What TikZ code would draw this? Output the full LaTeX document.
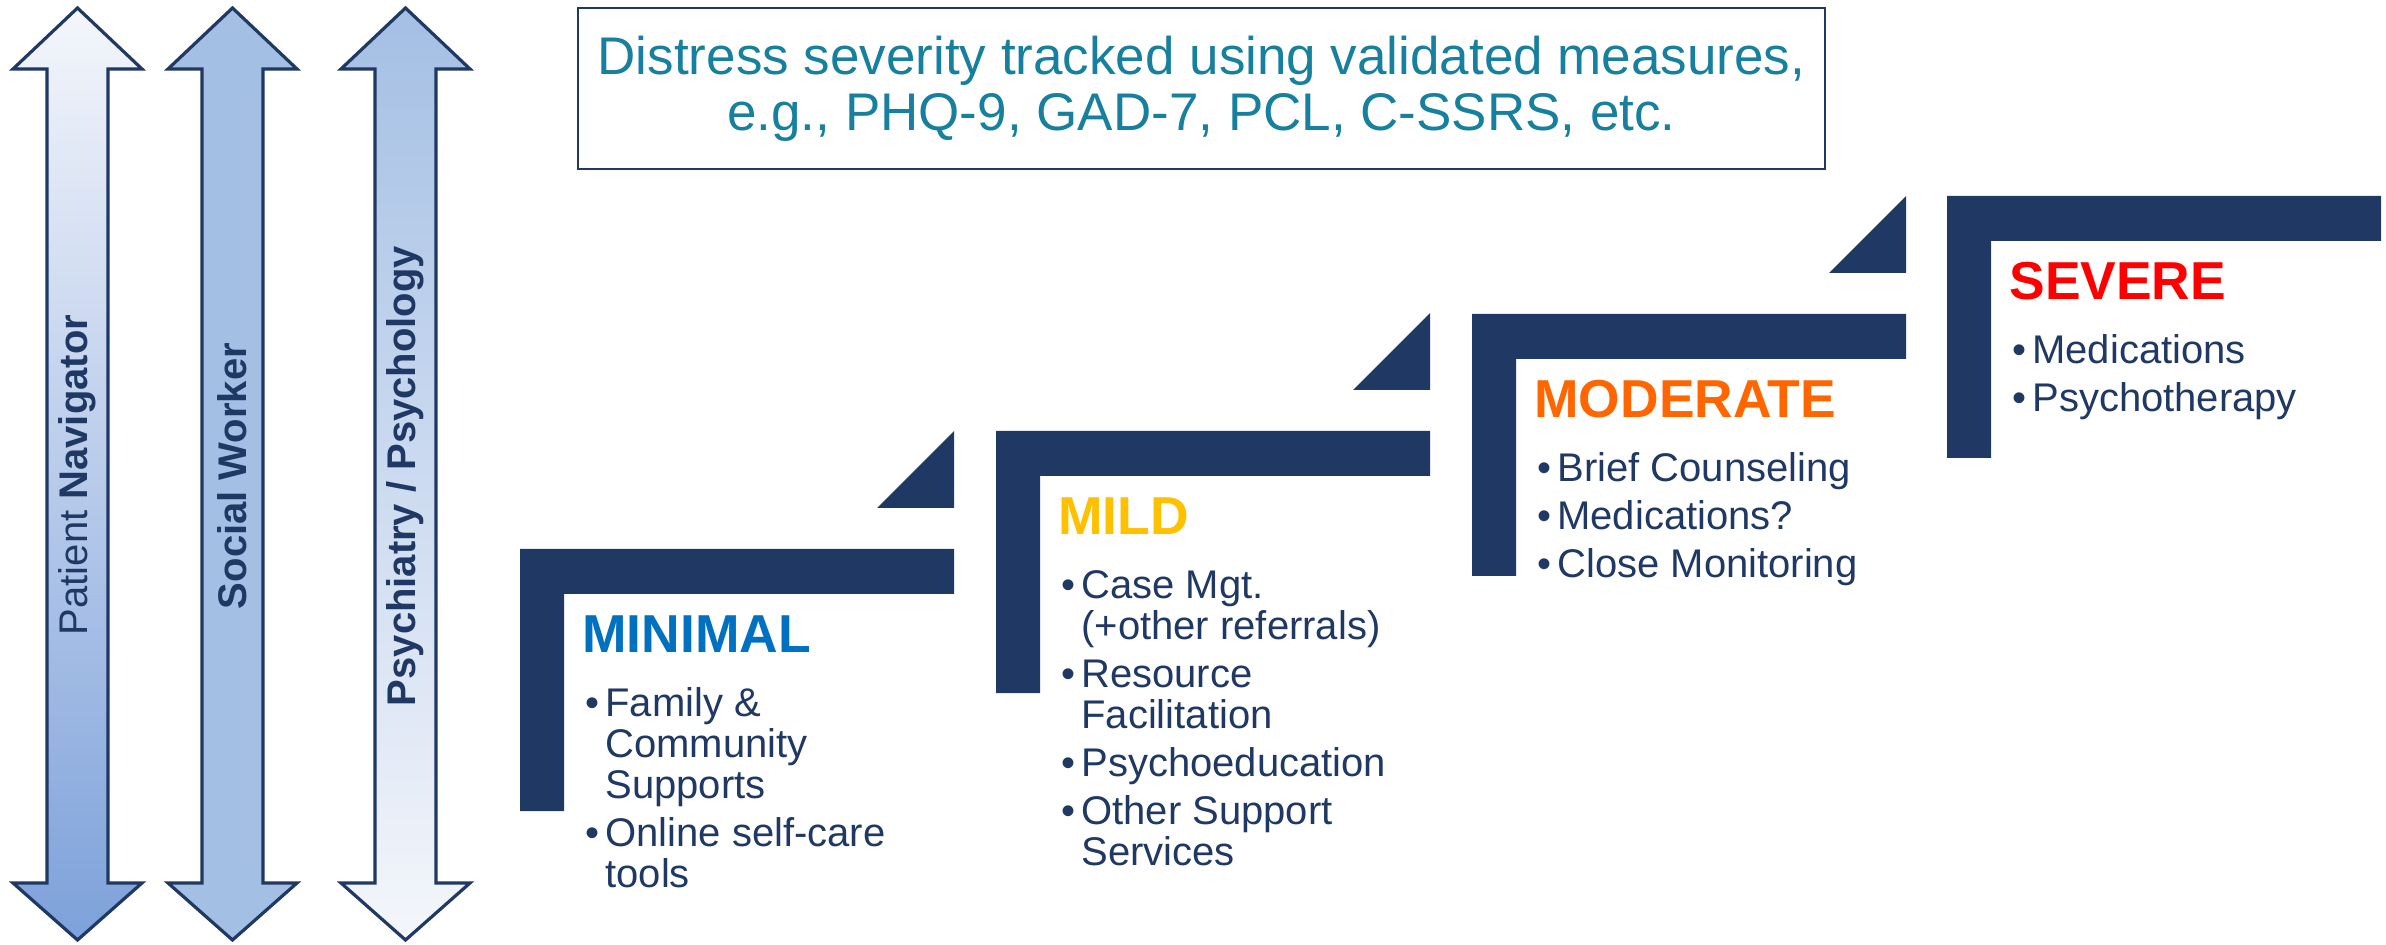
\documentclass[tikz,border=0pt]{standalone}
\usepackage{fontspec}
\setmainfont{Liberation Sans}
\usepackage{tikz}
\usetikzlibrary{positioning}

\definecolor{navy}{HTML}{1F3864}
\definecolor{tealtext}{HTML}{17809F}
\definecolor{minimalblue}{HTML}{0070C0}
\definecolor{mildgold}{HTML}{FFC000}
\definecolor{modorange}{HTML}{FF6600}
\definecolor{severered}{HTML}{FF0000}
\definecolor{palefill}{HTML}{F4F6FB}
\definecolor{midfill}{HTML}{A4BFE4}
\definecolor{deepfill}{HTML}{7DA1DA}

% double headed role arrow, centred on x = #1
\newcommand{\rolearrow}[2]{%
  \draw[roleline,#2] (#1,8) -- (#1+64.5,69) -- (#1+30.5,69) -- (#1+30.5,883)
    -- (#1+64.5,883) -- (#1,940) -- (#1-64.5,883) -- (#1-30.5,883)
    -- (#1-30.5,69) -- (#1-64.5,69) -- cycle;}
\newcommand{\stephead}[2]{{\fontsize{26.7}{20.5}\selectfont\bfseries\color{#1}#2}}
\newcommand{\bul}{\makebox[11.5pt][l]{\hspace{1.5pt}\textbullet}}
\newcommand{\ind}{\hspace*{11.5pt}}

\begin{document}
\begin{tikzpicture}[x=0.5pt,y=-0.5pt,
  roleline/.style={draw=navy,line width=1.6pt,line join=miter},
  roletext/.style={rotate=90,inner sep=0,text=navy,font=\fontsize{20}{22}\selectfont},
  scorebox/.style={draw=navy,line width=1.2pt,inner sep=0,minimum width=623.5pt,
    minimum height=80.5pt,align=center,text=tealtext,font=\fontsize{26.5}{28}\selectfont},
  stepnote/.style={anchor=north west,inner sep=0,align=left,text=navy,
    font=\fontsize{20}{20.5}\selectfont}]
\useasboundingbox (0,0) rectangle (2386,945);

% care team arrows
\rolearrow{77.5}{top color=palefill,bottom color=deepfill}
\rolearrow{232.5}{fill=midfill}
\rolearrow{405.5}{top color=midfill,bottom color=palefill}
\node[roletext] (navigator) at (77.5,475) {Patient \textbf{Navigator}};
\node[roletext] (socialworker) at (232.5,476) {\textbf{Social Worker}};
\node[roletext] (psychiatry) at (405.5,476) {\textbf{Psychiatry / Psychology}};

\node[scorebox] (measures) at (1201.5,88.5)
  {Distress severity tracked using validated measures,\\e.g., PHQ-9, GAD-7, PCL, C-SSRS, etc.};

% stairs
\foreach \name/\lx/\ty in {minimal/520/549,mild/996/431,moderate/1472/314,severe/1947/196}{
  \coordinate (\name) at (\lx,\ty);
  \fill[navy] (\lx,\ty) -- ++(434,0) -- ++(0,45) -- ++(-390,0) -- ++(0,217)
    -- ++(-44,0) -- cycle;
}
\foreach \lx/\ty in {520/549,996/431,1472/314}
  \fill[navy] (\lx+357,\ty-41) -- (\lx+434,\ty-41) -- (\lx+434,\ty-118) -- cycle;

\node[stepnote] (minimaltext) at ([shift={(62,66)}]minimal)
  {\stephead{minimalblue}{MINIMAL}\\[11.5pt]
   \bul Family \&\\ \ind Community\\ \ind Supports\\[3.5pt]
   \bul Online self-care\\ \ind tools};
\node[stepnote] (mildtext) at ([shift={(62,66)}]mild)
  {\stephead{mildgold}{MILD}\\[11.5pt]
   \bul Case Mgt.\\ \ind (+other referrals)\\[3.5pt]
   \bul Resource\\ \ind Facilitation\\[3.5pt]
   \bul Psychoeducation\\[3.5pt]
   \bul Other Support\\ \ind Services};
\node[stepnote] (moderatetext) at ([shift={(62,66)}]moderate)
  {\stephead{modorange}{MODERATE}\\[11.5pt]
   \bul Brief Counseling\\[3.5pt]
   \bul Medications?\\[3.5pt]
   \bul Close Monitoring};
\node[stepnote] (severetext) at ([shift={(62,66)}]severe)
  {\stephead{severered}{SEVERE}\\[11.5pt]
   \bul Medications\\[3.5pt]
   \bul Psychotherapy};
\end{tikzpicture}
\end{document}
